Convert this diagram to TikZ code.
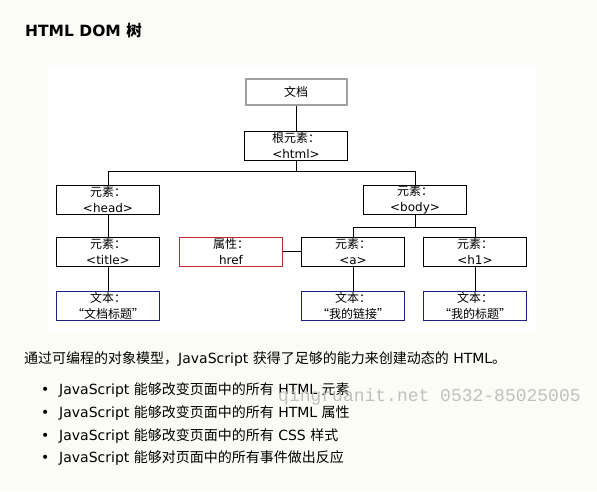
\documentclass[tikz,border=0pt]{standalone}
\usepackage{fontspec}
\setmainfont{DejaVu Sans}
\newfontfamily\zh{Noto Sans CJK SC}
\newfontfamily\wmfont{Liberation Mono}
\usetikzlibrary{positioning}
\definecolor{pagebg}{RGB}{252,252,247}
\definecolor{docgray}{RGB}{160,160,160}
\definecolor{attrred}{RGB}{196,40,48}
\definecolor{textblue}{RGB}{30,30,128}
\tikzset{
  dom box/.style={
    rectangle,
    minimum height=29pt,
    minimum width=103pt,
    draw=black,
    line width=1pt,
    fill=white,
    align=center,
    inner sep=0pt,
    font=\fontsize{12}{16}\selectfont,
  },
  dom doc/.style={dom box, draw=docgray, line width=2pt, minimum height=25.5pt, minimum width=101pt},
  dom attr/.style={dom box, draw=attrred},
  dom text/.style={dom box, draw=textblue},
  dom line/.style={line width=1pt},
  page text/.style={anchor=base west, inner sep=0pt, font=\fontsize{14}{17}\selectfont},
}

\begin{document}
\begin{tikzpicture}[x=1pt,y=1pt]
  \fill[pagebg] (0,0) rectangle (597,-491);
  \useasboundingbox (0,0) rectangle (597,-491);
  \fill[white] (48,-65) rectangle (536,-331);

  \node[page text,font=\fontsize{15.5}{18}\selectfont\bfseries] (heading) at (25,-36) {HTML DOM {\zh 树}};

  \node[dom doc] (doc) at (296,-92) {{\zh 文档}};
  \node[dom box,below=25pt of doc] (html) {{\zh 根元素：}\\<html>};
  \node[dom box,below left=24pt and 84pt of html] (head) {{\zh 元素：}\\<head>};
  \node[dom box,below right=24pt and 15pt of html] (body) {{\zh 元素：}\\<body>};
  \node[dom box,below=22pt of head] (title) {{\zh 元素：}\\<title>};
  \node[dom box,below=22pt of body,xshift=-62pt] (a) {{\zh 元素：}\\<a>};
  \node[dom box,right=18pt of a] (h1) {{\zh 元素：}\\<h1>};
  \node[dom attr,left=18pt of a] (href) {{\zh 属性：}\\href};
  \node[dom text,below=24pt of title] (titletxt) {{\zh 文本：}\\{\zh “文档标题”}};
  \node[dom text,below=24pt of a] (atxt) {{\zh 文本：}\\{\zh “我的链接”}};
  \node[dom text,below=24pt of h1] (h1txt) {{\zh 文本：}\\{\zh “我的标题”}};

  \draw[dom line] (doc) -- (html);
  \draw[dom line] (html.south) -- ++(0,-11) -| (head.north);
  \draw[dom line] (html.south) -- ++(0,-11) -| (body.north);
  \draw[dom line] (head) -- (title);
  \draw[dom line] (title) -- (titletxt);
  \draw[dom line] (body.south) -- ++(0,-13) -| (a.north);
  \draw[dom line] (body.south) -- ++(0,-13) -| (h1.north);
  \draw[dom line] (href) -- (a);
  \draw[dom line] (a) -- (atxt);
  \draw[dom line] (h1) -- (h1txt);

  \node[page text] (intro) at (24,-363) {{\zh 通过可编程的对象模型，}JavaScript {\zh 获得了足够的能力来创建动态的} HTML{\zh 。}};
  \node[page text] (dot1) at (41,-394.5) {•};
  \node[page text] (item1) at (59,-394.5) {JavaScript {\zh 能够改变页面中的所有} HTML {\zh 元素}};
  \node[page text] (dot2) at (41,-417) {•};
  \node[page text] (item2) at (59,-417) {JavaScript {\zh 能够改变页面中的所有} HTML {\zh 属性}};
  \node[page text] (dot3) at (41,-440) {•};
  \node[page text] (item3) at (59,-440) {JavaScript {\zh 能够改变页面中的所有} CSS {\zh 样式}};
  \node[page text] (dot4) at (41,-462.5) {•};
  \node[page text] (item4) at (59,-462.5) {JavaScript {\zh 能够对页面中的所有事件做出反应}};

  \node[page text,font=\fontsize{18}{20}\wmfont,text=black!25] (mark) at (278,-401) {qingruanit.net 0532-85025005};
\end{tikzpicture}
\end{document}
